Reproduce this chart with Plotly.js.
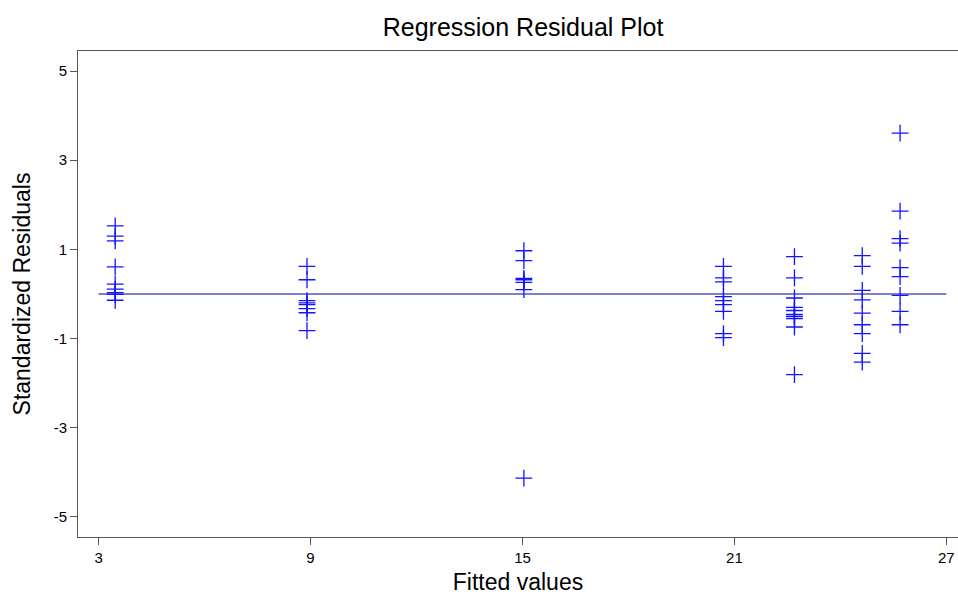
<!DOCTYPE html>
<html>
<head>
<meta charset="utf-8">
<script src="https://cdn.plot.ly/plotly-3.0.1.min.js"></script>
<style>html,body{margin:0;padding:0;background:#fff;}#chart{width:958px;height:608px;}</style>
</head>
<body>
<div id="chart"></div>
<script>
// Fitted value groups and their standardized residuals
const fit1 = 3.47;  const res1 = [1.53, 1.30, 1.19, 0.61, 0.22, 0.11, 0.03, -0.01, -0.14];
const fit2 = 8.90;  const res2 = [0.62, 0.32, -0.15, -0.20, -0.24, -0.33, -0.42, -0.82];
const fit3 = 15.04; const res3 = [0.97, 0.75, 0.35, 0.32, 0.26, 0.10, -4.13];
const fit4 = 20.69; const res4 = [0.62, 0.36, 0.27, -0.06, -0.15, -0.24, -0.39, -0.89, -0.98];
const fit5 = 22.70; const res5 = [0.84, 0.36, -0.09, -0.30, -0.37, -0.46, -0.50, -0.55, -0.74, -1.81];
const fit6 = 24.62; const res6 = [0.86, 0.62, 0.08, -0.13, -0.43, -0.69, -0.89, -1.33, -1.53];
const fit7 = 25.69; const res7 = [3.61, 1.86, 1.24, 1.14, 0.59, 0.39, -0.03, -0.39, -0.69];
const refLineX = [3, 27];
const refLineY = [0, 0];
const xTicks = [3, 9, 15, 21, 27];
const yTicks = [-5, -3, -1, 1, 3, 5];

const groups = [[fit1, res1], [fit2, res2], [fit3, res3], [fit4, res4], [fit5, res5], [fit6, res6], [fit7, res7]];
const xs = [], ys = [];
groups.forEach(([f, r]) => r.forEach(v => { xs.push(f); ys.push(v); }));

const font = "Liberation Sans, Arial, sans-serif";
const traces = [
  {x: refLineX, y: refLineY, mode: 'lines', line: {color: 'rgb(0,0,160)', width: 1}, hoverinfo: 'skip', showlegend: false},
  {x: xs, y: ys, mode: 'markers', marker: {symbol: 'cross-thin-open', size: 12, color: 'rgb(20,20,255)', line: {color: 'rgb(20,20,255)', width: 1.3}}, showlegend: false}
];
const layout = {
  width: 958, height: 608,
  paper_bgcolor: '#fefefe', plot_bgcolor: '#fefefe',
  margin: {l: 78, r: 0, t: 51, b: 71},
  title: {text: 'Regression Residual Plot', font: {family: font, size: 25, color: '#000'}, x: 0.546, xanchor: 'center', y: 0.955, yanchor: 'middle'},
  xaxis: {
    range: [2.417, 27.33], tickvals: xTicks, ticktext: xTicks.map(String),
    showgrid: false, zeroline: false, showline: true, mirror: true, linecolor: '#555', linewidth: 1,
    ticks: 'outside', ticklen: 7, tickcolor: '#555', tickfont: {family: font, size: 15, color: '#000'},
    title: {text: 'Fitted values', font: {family: font, size: 23, color: '#000'}, standoff: 8}
  },
  yaxis: {
    range: [-5.45, 5.45], tickvals: yTicks, ticktext: yTicks.map(String),
    showgrid: false, zeroline: false, showline: true, mirror: false, linecolor: '#555', linewidth: 1,
    ticks: 'outside', ticklen: 7, tickcolor: '#555', tickfont: {family: font, size: 15, color: '#000'},
    title: {text: 'Standardized Residuals', font: {family: font, size: 23, color: '#000'}, standoff: 16}
  }
};
Plotly.newPlot('chart', traces, layout, {displayModeBar: false});
</script>
</body>
</html>
